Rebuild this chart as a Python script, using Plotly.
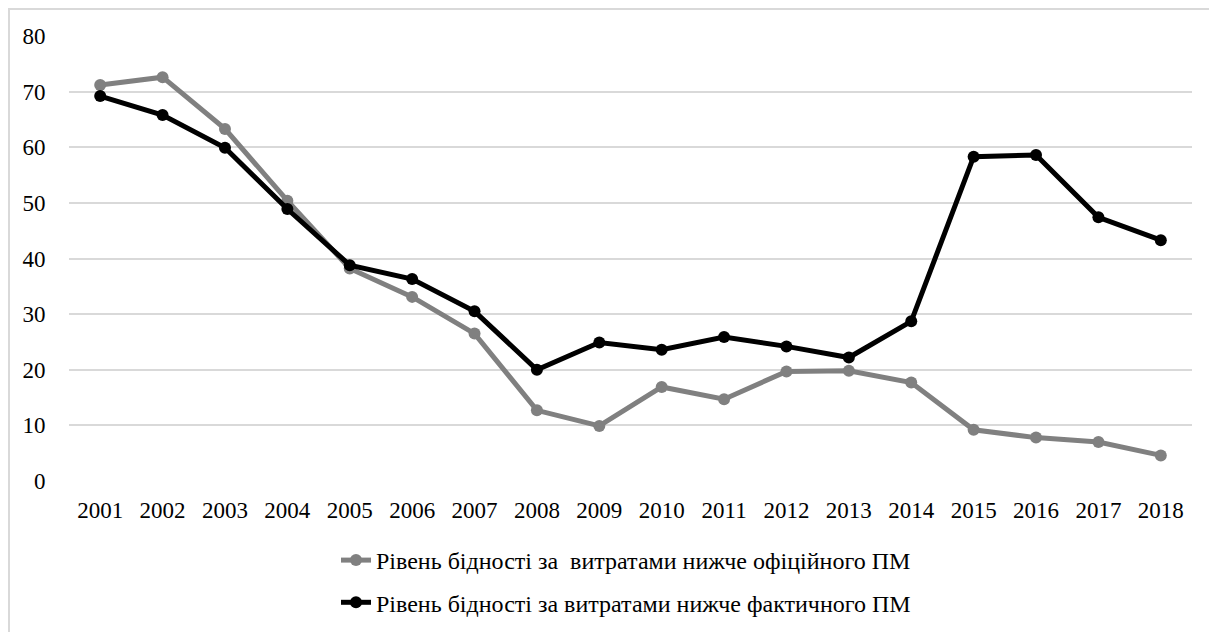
import plotly.graph_objects as go

years = [str(y) for y in range(2001, 2019)]
official = [71.2, 72.6, 63.3, 50.4, 38.2, 33.1, 26.5, 12.7, 9.9, 16.9, 14.7, 19.7, 19.8, 17.7, 9.2, 7.8, 7.0, 4.6]
actual = [69.2, 65.8, 59.9, 48.9, 38.8, 36.3, 30.5, 20.0, 24.9, 23.6, 25.9, 24.2, 22.2, 28.7, 58.3, 58.6, 47.4, 43.3]
name_official = "Рівень бідності за \u00a0витратами нижче офіційного ПМ"
name_actual = "Рівень бідності за витратами нижче фактичного ПМ"
yticks = [0, 10, 20, 30, 40, 50, 60, 70, 80]

# page has an 8px body margin; work in page coordinates and subtract it
OFF = 8
W, H = 1217 - OFF, 632 - OFF
left, right, top, bottom = 69, 1192, 36, 481  # plot area in page px
ml = left - OFF
mt = top - OFF
mr = W - (right - OFF)
mb = H - (bottom - OFF)
pw = right - left
ph = bottom - top


def px_x(x):
    return (x - left) / pw


def px_y(y):
    return (bottom - y) / ph


font = "Liberation Serif, Times New Roman, serif"
fs = 23

fig = go.Figure()
fig.add_trace(go.Scatter(x=years, y=official, mode="lines+markers", name=name_official,
                         legendgroup="g1",
                         line=dict(color="#808080", width=5),
                         marker=dict(color="#808080", size=12)))
fig.add_trace(go.Scatter(x=years, y=actual, mode="lines+markers", name=name_actual,
                         legendgroup="g2",
                         line=dict(color="#000000", width=5),
                         marker=dict(color="#000000", size=12)))

# chart border (top/left visible, right/bottom off-canvas as in reference)
fig.add_shape(type="rect", xref="paper", yref="paper",
              x0=px_x(9), x1=px_x(1260), y0=px_y(680), y1=px_y(9),
              line=dict(color="#d9d9d9", width=2), fillcolor="rgba(0,0,0,0)", layer="below")

fig.update_layout(
    width=W, height=H,
    margin=dict(l=ml, r=mr, t=mt, b=mb, autoexpand=False),
    paper_bgcolor="white", plot_bgcolor="white",
    font=dict(family=font, size=fs, color="#000000"),
    showlegend=True,
    legend=dict(orientation="v", x=px_x(336), xanchor="left",
                y=px_y(538), yanchor="top",
                font=dict(family=font, size=24, color="#000000"),
                bgcolor="rgba(0,0,0,0)", tracegroupgap=8, itemwidth=30),
    xaxis=dict(type="category", range=[-0.5, len(years) - 0.5],
               showgrid=False, zeroline=False, showline=False,
               ticks="outside", ticklen=8, tickcolor="rgba(0,0,0,0)",
               tickfont=dict(family=font, size=fs, color="#000000")),
    yaxis=dict(range=[0, 80], tickvals=yticks, showgrid=True, gridcolor="#d9d9d9", gridwidth=1.5,
               zeroline=False, showline=False,
               ticks="outside", ticklen=18, tickcolor="rgba(0,0,0,0)",
               tickfont=dict(family=font, size=fs, color="#000000")),
)

fig.write_html("out.html")
